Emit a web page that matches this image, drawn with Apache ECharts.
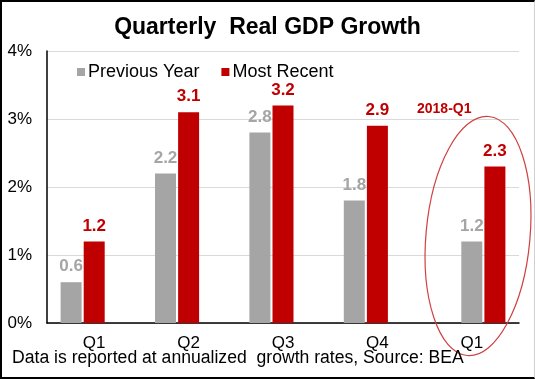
<!DOCTYPE html>
<html>
<head>
<meta charset="utf-8">
<script src="https://cdn.jsdelivr.net/npm/echarts@6/dist/echarts.min.js"></script>
<style>
html,body{margin:0;padding:0;background:#fff;}
#wrap{position:relative;width:535px;height:379px;}
#chart{position:absolute;left:0;top:0;width:535px;height:379px;}
#frame{position:absolute;left:0;top:0;width:535px;height:379px;box-sizing:border-box;border-top:2px solid #000;border-left:2px solid #000;border-bottom:2px solid #000;border-right:1px solid #d0d0d0;pointer-events:none;}
</style>
</head>
<body>
<div id="wrap"><div id="chart"></div><div id="frame"></div></div>
<script>
var categories = ['Q1', 'Q2', 'Q3', 'Q4', 'Q1'];
var previousYear = [0.6, 2.2, 2.8, 1.8, 1.2];
var mostRecent = [1.2, 3.1, 3.2, 2.9, 2.3];
var yTicks = [0, 1, 2, 3, 4];
var highlightLabel = '2018-Q1';
var footnote = 'Data is reported at annualized  growth rates, Source: BEA';

var GRAY = '#a5a5a5';
var RED = '#c00000';
var FONT = '"Liberation Sans", Arial, sans-serif';
var last = categories.length - 1;

// Last quarter is shifted one slot right (as in the original), so three bar slots are used.
var slotA = previousYear.map(function (v, i) { return i < last ? v : '-'; });
var slotB = mostRecent.map(function (v, i) {
  return i < last ? v : { value: previousYear[i], itemStyle: { color: GRAY }, label: { color: GRAY } };
});
var slotC = mostRecent.map(function (v, i) { return i < last ? '-' : v; });

function lbl(color) {
  return {
    show: true, position: 'top', distance: 7, color: color,
    fontFamily: FONT, fontWeight: 'bold', fontSize: 17,
    formatter: function (p) { return Number(p.value).toFixed(1); }
  };
}

var chart = echarts.init(document.getElementById('chart'), null, { renderer: 'canvas' });
chart.setOption({
  animation: false,
  backgroundColor: '#fff',
  textStyle: { fontFamily: FONT },
  title: {
    text: 'Quarterly  Real GDP Growth', left: 'center', top: 11,
    textStyle: { fontFamily: FONT, fontWeight: 'bold', fontSize: 23, color: '#000' }
  },
  legend: {
    left: 72, top: 58, icon: 'rect', itemWidth: 8, itemHeight: 8, itemGap: 22,
    textStyle: { fontFamily: FONT, fontSize: 18, color: '#000', padding: [0, 0, 0, -2] },
    data: [
      { name: 'Previous Year', itemStyle: { color: GRAY } },
      { name: 'Most Recent', itemStyle: { color: RED } }
    ]
  },
  grid: { left: 47, right: 16, top: 51, bottom: 56, containLabel: false },
  xAxis: {
    type: 'category', data: categories,
    axisLine: { show: true, lineStyle: { color: '#000', width: 1.5 } },
    axisTick: { show: false },
    axisLabel: { fontFamily: FONT, fontSize: 17, color: '#000', margin: 12 }
  },
  yAxis: {
    type: 'value', min: yTicks[0], max: yTicks[yTicks.length - 1], interval: 1,
    axisLine: { show: true, lineStyle: { color: '#000', width: 1.5 } },
    axisTick: { show: false },
    splitLine: { lineStyle: { color: '#d9d9d9', width: 1 } },
    axisLabel: { fontFamily: FONT, fontSize: 17, color: '#000', margin: 15, formatter: '{value}%' }
  },
  series: [
    { name: 'Previous Year', type: 'bar', data: slotA, barWidth: 21, barGap: '10%',
      itemStyle: { color: GRAY }, label: lbl(GRAY) },
    { name: 'Most Recent', type: 'bar', data: slotB, barWidth: 21, barGap: '10%',
      itemStyle: { color: RED }, label: lbl(RED) },
    { name: 'Latest', type: 'bar', data: slotC, barWidth: 21, barGap: '10%',
      itemStyle: { color: RED }, label: lbl(RED) }
  ],
  graphic: [
    { type: 'ellipse', shape: { cx: 0, cy: 0, rx: 52, ry: 120 }, x: 478, y: 236, rotation: -0.09,
      style: { fill: 'none', stroke: '#d04040', lineWidth: 1.2 }, z: 10 },
    { type: 'text', left: 417, top: 102,
      style: { text: highlightLabel, fill: RED, font: 'bold 14px ' + FONT }, z: 10 },
    { type: 'text', left: 12, top: 349,
      style: { text: footnote, fill: '#000', font: '17.6px ' + FONT }, z: 10 }
  ]
});
</script>
</body>
</html>
